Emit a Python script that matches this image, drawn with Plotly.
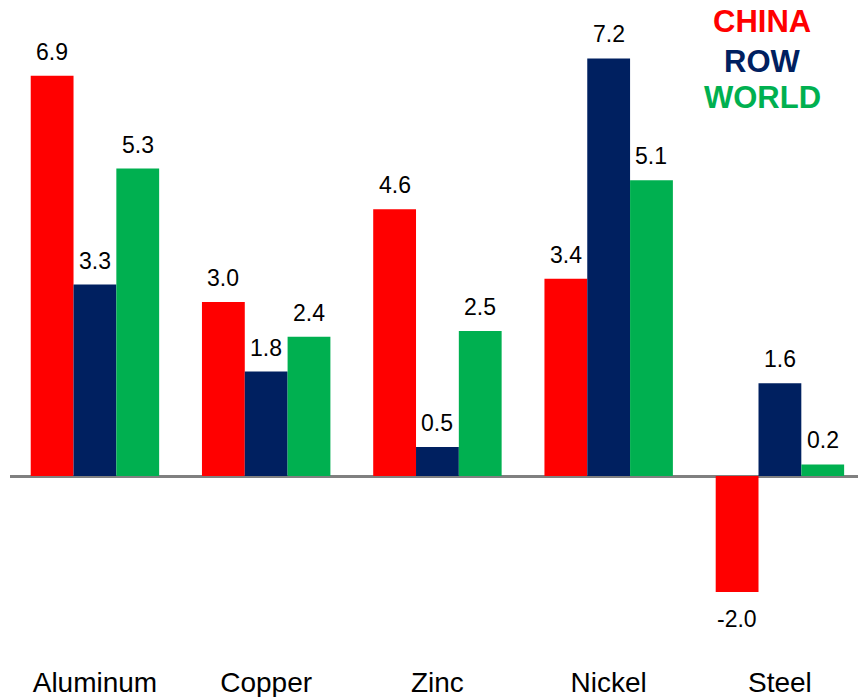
import plotly.graph_objects as go

categories = ["Aluminum", "Copper", "Zinc", "Nickel", "Steel"]
china = [6.9, 3.0, 4.6, 3.4, -2.0]
row = [3.3, 1.8, 0.5, 7.2, 1.6]
world = [5.3, 2.4, 2.5, 5.1, 0.2]

series = [("CHINA", china, "#FF0000"), ("ROW", row, "#002060"), ("WORLD", world, "#00B050")]

FONT = "Liberation Sans, Arial, sans-serif"
xs = list(range(len(categories)))

fig = go.Figure()
for name, vals, col in series:
    fig.add_trace(go.Bar(x=xs, y=vals, name=name, marker=dict(color=col, line=dict(width=0)),
                         showlegend=False, hoverinfo="y"))

# value labels
offsets = [-0.25, 0.0, 0.25]
for (name, vals, col), off in zip(series, offsets):
    for i, v in enumerate(vals):
        fig.add_annotation(x=i + off, y=v, xref="x", yref="y", text=f"{v:.1f}",
                           showarrow=False, yanchor="middle",
                           yshift=24 if v >= 0 else -27,
                           font=dict(family=FONT, size=23, color="#000000"))

# legend-like colored labels
legend_y = [0.967, 0.907, 0.853]
for (name, vals, col), ly in zip(series, legend_y):
    fig.add_annotation(x=0.8868, y=ly, xref="paper", yref="paper", text=f"<b>{name}</b>",
                       showarrow=False, xanchor="center", yanchor="middle",
                       font=dict(family=FONT, size=31, color=col))

fig.update_layout(
    width=858, height=697,
    margin=dict(l=10, r=0, t=0, b=34),
    barmode="group", bargap=0.25, bargroupgap=0,
    plot_bgcolor="white", paper_bgcolor="white",
    xaxis=dict(tickmode="array", tickvals=xs, ticktext=categories,
               range=[-0.496, 4.456], showgrid=False, zeroline=False, showline=False,
               ticks="", tickfont=dict(family=FONT, size=28, color="#000000"),
               ticklabelstandoff=0, automargin=False),
    yaxis=dict(range=[-3.224, 8.207], showgrid=False, showticklabels=False, ticks="",
               zeroline=True, zerolinecolor="#808080", zerolinewidth=3, showline=False,
               automargin=False),
)

fig.write_html("out.html")
